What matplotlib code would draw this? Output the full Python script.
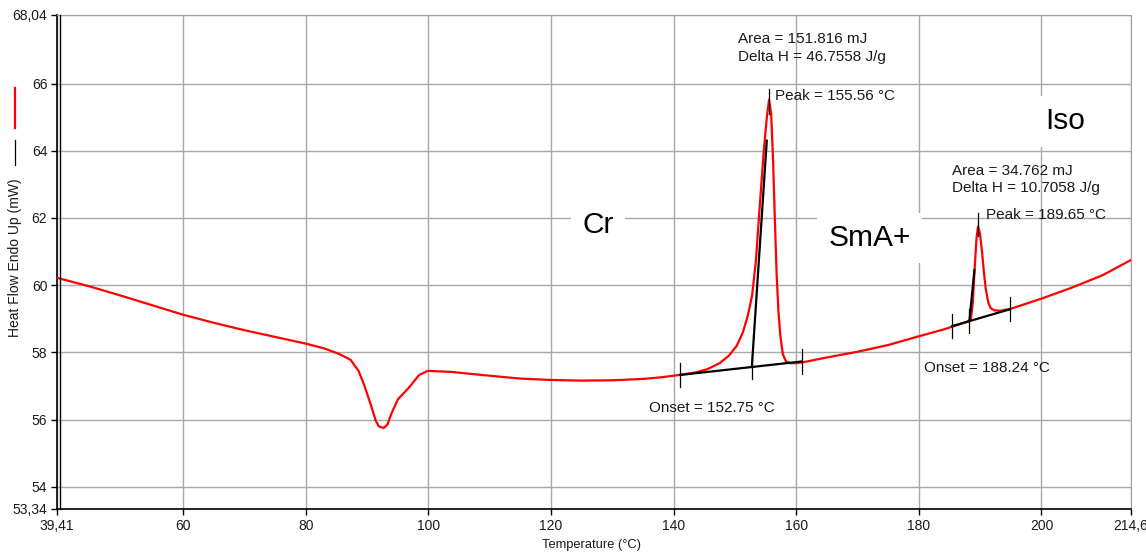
import matplotlib.pyplot as plt
import matplotlib.transforms as mtransforms
from matplotlib.lines import Line2D

plt.rcParams['font.family'] = ['Liberation Sans', 'DejaVu Sans']

# DSC heating trace (temperature in C, heat flow in mW)
temp = [39.41, 45, 50, 55, 60, 65, 70, 75, 80, 83, 84, 85.5, 87.3, 88.6, 89.5, 90.6, 91.4,
        91.9, 92.7, 93.3, 93.9, 95.0, 96.8, 98.5, 99.9, 103.7, 108.6, 115, 120, 125, 130,
        135, 138, 141, 143.5, 145.5, 147.5, 149.0, 150.3, 151.3, 152.1, 152.8, 153.4, 154.1,
        154.7, 155.2, 155.56, 155.9, 156.2, 156.5, 156.8, 157.1, 157.4, 157.8, 158.3, 159,
        160, 161.5, 165, 170, 175, 180, 184, 186, 188.0, 188.5, 188.8, 189.1, 189.4, 189.65,
        189.95, 190.3, 190.6, 190.9, 191.3, 191.7, 192.3, 193.3, 195, 200, 205, 210, 214.6]
heat = [60.22, 59.95, 59.68, 59.40, 59.12, 58.88, 58.66, 58.46, 58.26, 58.12, 58.05, 57.95,
        57.78, 57.45, 57.04, 56.44, 55.97, 55.80, 55.75, 55.85, 56.15, 56.60, 56.95, 57.33,
        57.45, 57.42, 57.33, 57.22, 57.18, 57.16, 57.17, 57.21, 57.26, 57.33, 57.40, 57.50,
        57.68, 57.90, 58.20, 58.60, 59.10, 59.70, 60.70, 62.50, 64.00, 65.00, 65.52, 65.10,
        63.80, 62.00, 60.30, 59.20, 58.50, 57.95, 57.74, 57.68, 57.68, 57.72, 57.85, 58.02,
        58.22, 58.48, 58.68, 58.80, 58.92, 59.00, 59.50, 60.50, 61.40, 61.75, 61.55, 61.00,
        60.40, 59.90, 59.50, 59.32, 59.25, 59.24, 59.30, 59.60, 59.93, 60.30, 60.75]

# peak analysis results
onset = [152.75, 188.24]
peak = [155.56, 189.65]
area = [151.816, 34.762]
delta_h = [46.7558, 10.7058]
base_start = [(141.1, 57.33), (185.4, 58.78)]
base_end = [(160.9, 57.73), (194.8, 59.28)]
tangent_top = [(155.19, 64.3), (189.06, 60.45)]
peak_tick = [(65.1, 65.85), (61.45, 62.15)]

phases = ['Cr', 'SmA+', 'Iso']
phase_pos = [(127.7, 61.8), (172.0, 61.4), (203.8, 64.88)]

xticks = [39.41, 60, 80, 100, 120, 140, 160, 180, 200, 214.6]
xlabels = ['39,41', '60', '80', '100', '120', '140', '160', '180', '200', '214,6']
yticks = [53.34, 54, 56, 58, 60, 62, 64, 66, 68.04]
ylabels = ['53,34', '54', '56', '58', '60', '62', '64', '66', '68,04']

fig = plt.figure(figsize=(11.46, 5.55), dpi=100)
ax = fig.add_axes([57 / 1146, 1 - 509 / 555, (1131 - 57) / 1146, (509 - 15) / 555])

ax.set_xlim(39.41, 214.6)
ax.set_ylim(53.34, 68.04)
ax.set_xticks(xticks)
ax.set_xticklabels(xlabels)
ax.set_yticks(yticks)
ax.set_yticklabels(ylabels)
ax.tick_params(direction='out', length=4, width=1, labelsize=10, colors='black',
               labelcolor='#1a1a1a', pad=3)
ax.grid(True, color='#a8a8a8', linewidth=1)
ax.set_axisbelow(True)
for s in ['top', 'right']:
    ax.spines[s].set_color('#a0a0a0')
for s in ['left', 'bottom']:
    ax.spines[s].set_color('black')
    ax.spines[s].set_linewidth(1.2)

# second line on the left axis
off = mtransforms.offset_copy(ax.transAxes, fig=fig, x=2.3, y=0, units='points')
ax.plot([0, 0], [0, 1], color='black', lw=1, transform=off, clip_on=False, zorder=5)

ax.plot(temp, heat, color='#ff0000', lw=1.6, zorder=3)

for i in range(2):
    (x0, y0), (x1, y1) = base_start[i], base_end[i]
    yo = y0 + (y1 - y0) * (onset[i] - x0) / (x1 - x0)
    ax.plot([x0, x1], [y0, y1], color='black', lw=1.6, zorder=4)
    for xx, yy in [(x0, y0), (x1, y1), (onset[i], yo)]:
        ax.plot([xx, xx], [yy - 0.36, yy + 0.36], color='black', lw=0.9, zorder=4)
    ax.plot([onset[i], tangent_top[i][0]], [yo, tangent_top[i][1]], color='black', lw=1.6, zorder=4)
    ax.plot([peak[i], peak[i]], peak_tick[i], color='black', lw=0.9, zorder=4)

tk = dict(fontsize=11, color='#1a1a1a', va='center', ha='left')
ax.text(150.45, 67.33, 'Area = %.3f mJ' % area[0], **tk)
ax.text(150.45, 66.80, 'Delta H = %.4f J/g' % delta_h[0], **tk)
ax.text(156.5, 65.62, 'Peak = %.2f °C' % peak[0], **tk)
ax.text(135.9, 56.36, 'Onset = %.2f °C' % onset[0], **tk)
ax.text(185.4, 63.40, 'Area = %.3f mJ' % area[1], **tk)
ax.text(185.4, 62.90, 'Delta H = %.4f J/g' % delta_h[1], **tk)
ax.text(190.95, 62.10, 'Peak = %.2f °C' % peak[1], **tk)
ax.text(180.9, 57.54, 'Onset = %.2f °C' % onset[1], **tk)

for name, (px, py) in zip(phases, phase_pos):
    ax.text(px, py, name, fontsize=21.5, color='black', ha='center', va='center', zorder=2.5,
            bbox=dict(boxstyle='square,pad=0.38', facecolor='white', edgecolor='none'))

fig.text(592 / 1146, 1 - 545 / 555, 'Temperature (°C)', fontsize=9.3, ha='center', va='center',
         color='#1a1a1a')
fig.text(15 / 1146, 1 - 258 / 555, 'Heat Flow Endo Up (mW)', fontsize=10, rotation=90,
         ha='center', va='center', color='#1a1a1a')
fig.add_artist(Line2D([15 / 1146] * 2, [1 - 88 / 555, 1 - 128 / 555], color='#ff0000', lw=1.6))
fig.add_artist(Line2D([15 / 1146] * 2, [1 - 140 / 555, 1 - 165 / 555], color='black', lw=0.9))

fig.savefig('out.png', dpi=100)
